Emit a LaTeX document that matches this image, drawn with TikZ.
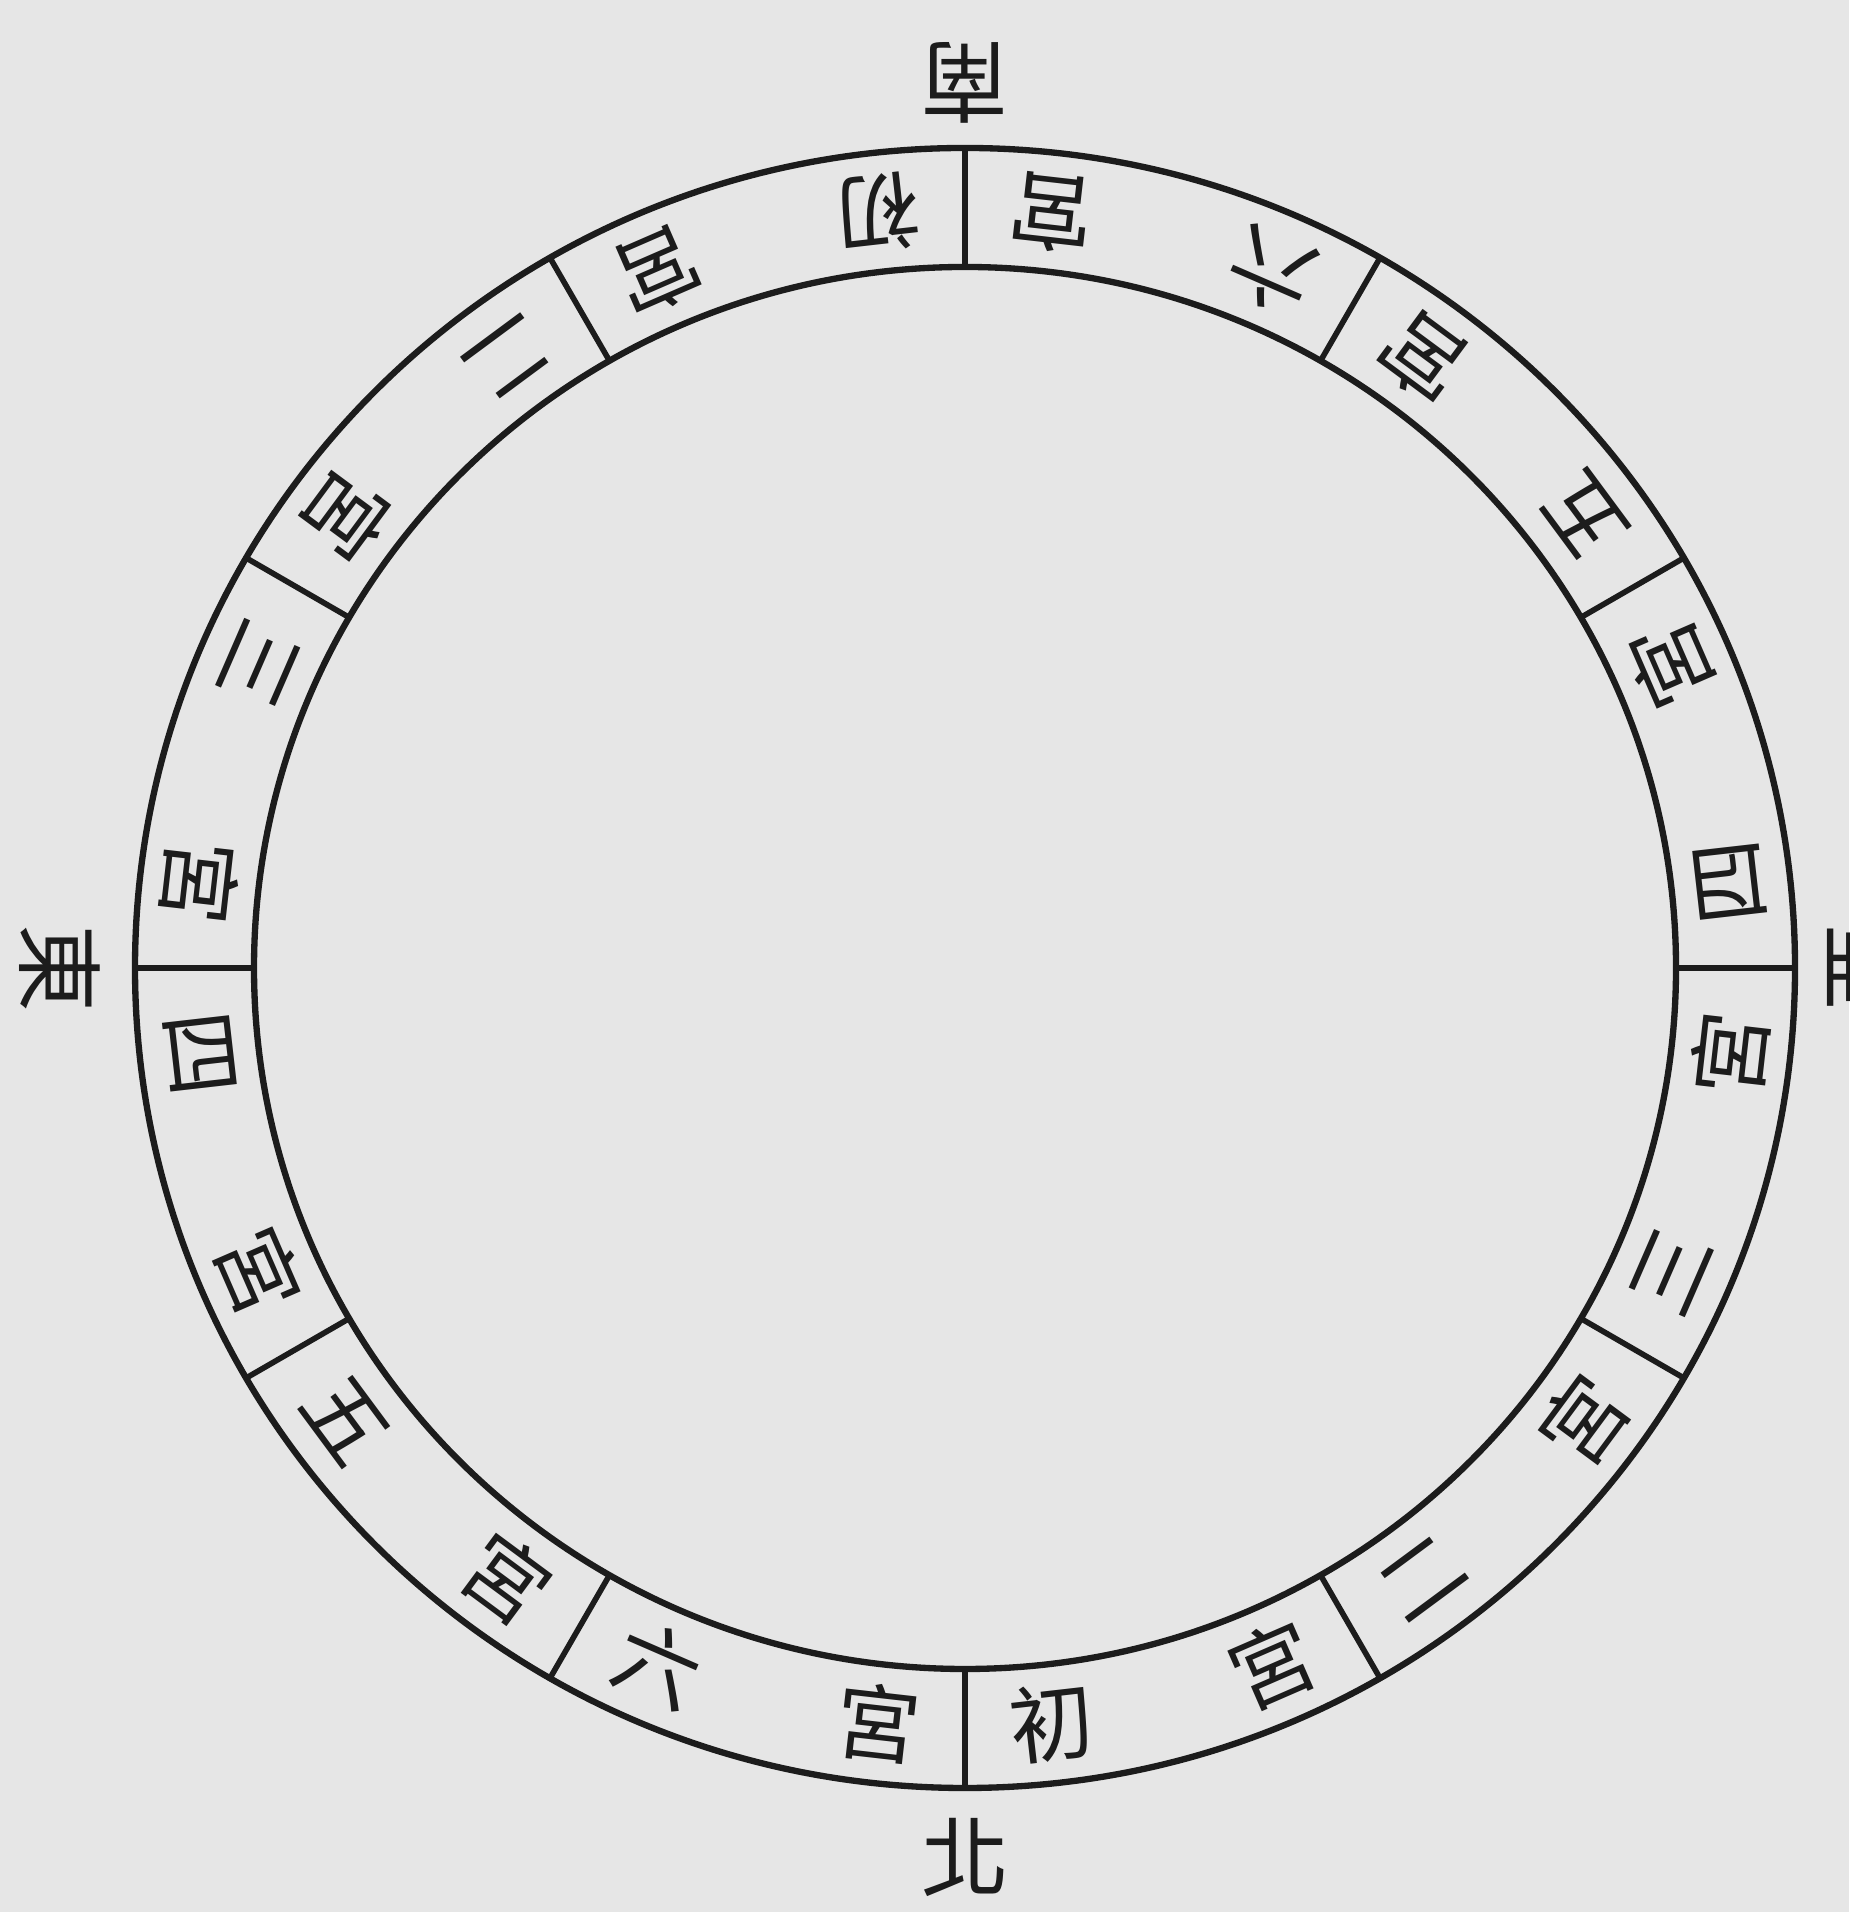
\documentclass[tikz,border=0pt]{standalone}
\usepackage{fontspec}
\newfontfamily\cjk{Noto Sans CJK TC}
\definecolor{PaperGrey}{HTML}{E6E6E6}
\definecolor{InkBlack}{HTML}{1C1C1C}
\usetikzlibrary{positioning}

\begin{document}
\begin{tikzpicture}[
    ring/.style={draw=InkBlack, line width=1.8pt},
    tick/.style={draw=InkBlack, line width=1.6pt},
    glyph/.style={font=\cjk\fontsize{24}{24}\selectfont, text=InkBlack, inner sep=0pt},
    compass/.style={font=\cjk\fontsize{25}{25}\selectfont, text=InkBlack, inner sep=0pt}
  ]
  \fill[PaperGrey] (0,0) rectangle (18.49,19.12);
  \useasboundingbox (0,0) rectangle (18.49,19.12);
  \clip (0,0) rectangle (18.49,19.12);
  \coordinate (c) at (9.65,9.44);
  % two rings
  \draw[ring] (c) ellipse[x radius=8.30, y radius=8.20];
  \draw[ring] (c) ellipse[x radius=7.11, y radius=7.01];
  % twelve houses
  \foreach \n [count=\i from 0] in {初,二,三,四,五,六,初,二,三,四,五,六} {
    \pgfmathtruncatemacro\a{270+30*\i}
    \path (c) ++(\a:7.11 and 7.01) coordinate (in\i);
    \path (c) ++(\a:8.30 and 8.20) coordinate (out\i);
    \draw[tick] (in\i) -- (out\i);
    \node[glyph, rotate=\a+96.5] (num\i) at ([shift={(\a+6.5:7.70 and 7.60)}]c) {\n};
    \node[glyph, rotate=\a+113.5] (gong\i) at ([shift={(\a+23.5:7.70 and 7.60)}]c) {宮};
  }
  % compass points
  \foreach \d/\ang/\r in {南/90/8.85, 北/270/8.89, 東/180/9.05, 西/0/9.0} {
    \node[compass, rotate=\ang+90] (dir\ang) at ([shift={(\ang:\r)}]c) {\d};
  }
\end{tikzpicture}
\end{document}
